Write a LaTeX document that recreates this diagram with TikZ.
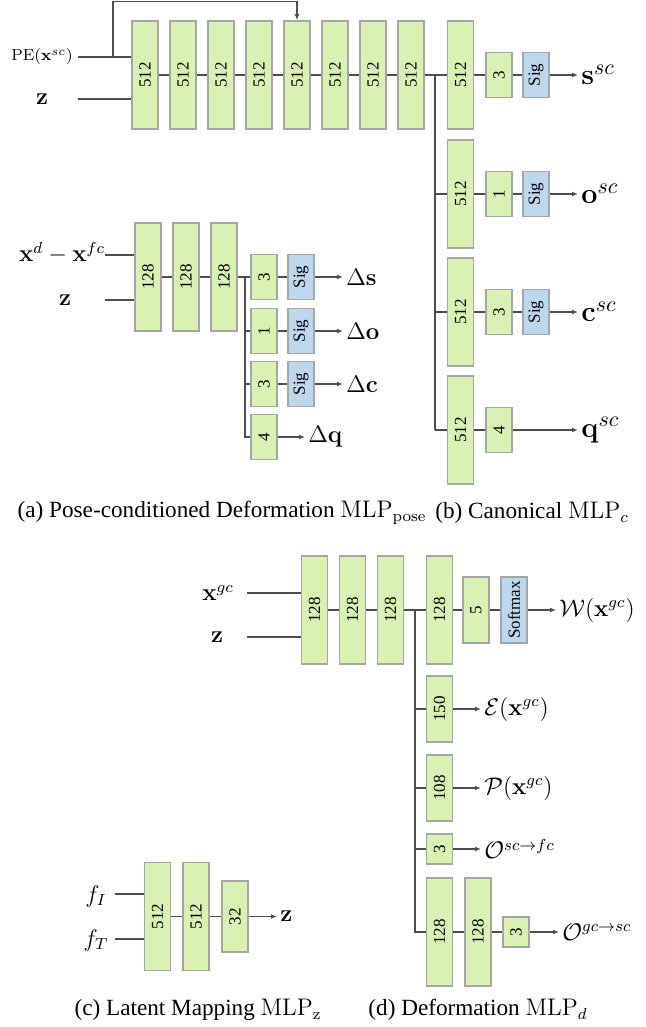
\documentclass[tikz,border=0pt]{standalone}
\usepackage[no-math]{fontspec}
\setmainfont{Liberation Serif}
\usepackage{graphicx}
\usetikzlibrary{arrows.meta}
\definecolor{LayerGreen}{HTML}{D9F2B4}
\definecolor{LayerEdge}{HTML}{A6A6A6}
\definecolor{ActBlue}{HTML}{BDD7EE}
\definecolor{WireGray}{HTML}{4D4D4D}
\newcommand{\vlab}[1]{\rotatebox{90}{#1}}
\tikzset{
  layer/.style={draw=LayerEdge,fill=LayerGreen,line width=0.75pt,minimum width=13pt,inner sep=0pt,font=\fontsize{8.5}{9}\selectfont},
  tall/.style={layer,minimum height=54pt},
  mid/.style={layer,minimum height=33pt},
  short/.style={layer,minimum height=22.5pt},
  tiny/.style={layer,minimum height=15pt},
  act/.style={fill=ActBlue},
  wire/.style={WireGray,line width=0.6pt},
  flow/.style={wire,-{Latex[length=3pt,width=2.4pt]}},
  lab/.style={inner sep=1.5pt,font=\fontsize{12}{14}\selectfont},
  big/.style={inner sep=1.5pt,font=\fontsize{15}{17}\selectfont},
  subcap/.style={inner sep=0pt,font=\fontsize{11.6}{14}\selectfont}
}
\begin{document}
\begin{tikzpicture}[x=0.5pt,y=-0.5pt]
  \useasboundingbox (0,0) rectangle (646,1027);
  % (b) canonical MLP
  \foreach \i in {1,...,8}{\node[tall] (c\i) at ({145+38*(\i-1)},75) {\vlab{512}};}
  \foreach \i [count=\j from 2] in {1,...,7}{\draw[wire] (c\i) -- (c\j);}
  \node[font=\fontsize{8.5}{10}\selectfont] (pe) at (42,57) {$\mathrm{PE}(\mathbf{x}^{sc})$};
  \node[lab] (zb) at (42,99) {$\mathbf{z}$};
  \coordinate (pein) at (78,57);\coordinate (zbin) at (78,99);
  \coordinate (skip) at (113,57);
  \draw[wire] (pein) -- (pein -| c1.west);
  \draw[wire] (zbin) -- (zbin -| c1.west);
  \draw[flow] (skip) -- ++(0,-55.5) -| (c5.north);
  \coordinate (cj) at (435,75);
  \foreach \n/\y in {s/75,o/194,c/312,q/430}{
    \node[tall] (h\n) at (460.5,\y) {\vlab{512}};
    \draw[wire] (cj |- h\n) -- (h\n);
  }
  \draw[wire] (c8) -- (cj) -- (cj |- hq);
  \foreach \n/\y/\w in {s/75/3,o/194/1,c/312/3}{
    \node[short] (k\n) at (499,\y) {\vlab{\w}};
    \node[short,act] (g\n) at (536,\y) {\vlab{Sig}};
    \node[big,anchor=west] (o\n) at (578,\y) {$\mathbf{\n}^{sc}$};
    \draw[wire] (h\n) -- (k\n);
    \draw[wire] (k\n) -- (g\n);
    \draw[flow] (g\n) -- (o\n);
  }
  \node[short] (kq) at (499,430) {\vlab{4}};
  \node[big,anchor=west] (oq) at (578,430) {$\mathbf{q}^{sc}$};
  \draw[wire] (hq) -- (kq);
  \draw[flow] (kq) -- (oq);

  % (a) pose-conditioned deformation MLP
  \node[lab] (xd) at (62,253) {$\mathbf{x}^{d}-\mathbf{x}^{fc}$};
  \node[lab] (za) at (65,300) {$\mathbf{z}$};
  \coordinate (xdin) at (105,255);\coordinate (zain) at (105,300);
  \foreach \i in {1,2,3}{\node[tall] (p\i) at ({148+38*(\i-1)},277) {\vlab{128}};}
  \draw[wire] (xdin) -- (xdin -| p1.west);
  \draw[wire] (zain) -- (zain -| p1.west);
  \draw[wire] (p1) -- (p2);\draw[wire] (p2) -- (p3);
  \coordinate (pj) at (245,277);
  \foreach \n/\y/\w in {s/277/3,o/331/1,c/384/3}{
    \node[short] (pk\n) at (264,\y) {\vlab{\w}};
    \node[short,act] (pg\n) at (301,\y) {\vlab{Sig}};
    \node[lab,anchor=west] (pd\n) at (343,\y) {$\Delta\mathbf{\n}$};
    \draw[wire] (pj |- pk\n) -- (pk\n);
    \draw[wire] (pk\n) -- (pg\n);
    \draw[flow] (pg\n) -- (pd\n);
  }
  \node[short] (pkq) at (264,437) {\vlab{4}};
  \node[lab,anchor=west] (pdq) at (305,437) {$\Delta\mathbf{q}$};
  \draw[wire] (p3) -- (pj) -- (pj |- pkq) -- (pkq);
  \draw[flow] (pkq) -- (pdq);

  \node[subcap] (capa) at (222,513) {(a) Pose-conditioned Deformation $\mathrm{MLP}_{\mathrm{pose}}$};
  \node[subcap] (capb) at (532,513) {(b) Canonical $\mathrm{MLP}_{c}$};

  % (d) deformation MLP
  \node[lab] (xg) at (218,593) {$\mathbf{x}^{gc}$};
  \node[lab] (zd) at (217,637) {$\mathbf{z}$};
  \coordinate (xgin) at (247,593);\coordinate (zdin) at (247,637);
  \foreach \i in {1,2,3}{\node[tall] (d\i) at ({314.5+38*(\i-1)},610) {\vlab{128}};}
  \draw[wire] (xgin) -- (xgin -| d1.west);
  \draw[wire] (zdin) -- (zdin -| d1.west);
  \draw[wire] (d1) -- (d2);\draw[wire] (d2) -- (d3);
  \coordinate (dj) at (415,610);
  \node[tall] (dw) at (439.5,610) {\vlab{128}};
  \node[mid] (dw5) at (476,610) {\vlab{5}};
  \node[mid,act] (dws) at (514,610) {\vlab{Softmax}};
  \node[lab,anchor=west] (ow) at (556,610) {$\mathcal{W}(\mathbf{x}^{gc})$};
  \node[mid] (de) at (439.5,709) {\vlab{150}};
  \node[lab,anchor=west] (oe) at (481,709) {$\mathcal{E}(\mathbf{x}^{gc})$};
  \node[mid] (dp) at (439.5,788) {\vlab{108}};
  \node[lab,anchor=west] (op) at (481,788) {$\mathcal{P}(\mathbf{x}^{gc})$};
  \node[tiny] (df) at (439.5,849) {\vlab{3}};
  \node[lab,anchor=west] (of) at (481,849) {$\mathcal{O}^{sc\rightarrow fc}$};
  \node[tall] (dg1) at (439.5,932) {\vlab{128}};
  \node[tall] (dg2) at (478,932) {\vlab{128}};
  \node[tiny] (dg3) at (516,932) {\vlab{3}};
  \node[lab,anchor=west] (og) at (559,932) {$\mathcal{O}^{gc\rightarrow sc}$};
  \draw[wire] (d3) -- (dw);
  \draw[wire] (dj) -- (dj |- dg1) -- (dg1);
  \foreach \b in {de,dp,df}{\draw[wire] (dj |- \b) -- (\b);}
  \draw[wire] (dw) -- (dw5);\draw[wire] (dw5) -- (dws);
  \draw[flow] (dws) -- (ow);
  \draw[flow] (de) -- (oe);\draw[flow] (dp) -- (op);\draw[flow] (df) -- (of);
  \draw[wire] (dg1) -- (dg2);\draw[wire] (dg2) -- (dg3);
  \draw[flow] (dg3) -- (og);

  % (c) latent mapping MLP
  \node[lab] (fi) at (96,896) {$f_I$};
  \node[lab] (ft) at (96,940) {$f_T$};
  \coordinate (fiin) at (115,894);\coordinate (ftin) at (115,939);
  \node[tall] (l1) at (157.5,916.5) {\vlab{512}};
  \node[tall] (l2) at (196,916.5) {\vlab{512}};
  \node[layer,minimum height=35.5pt] (l3) at (235,916.5) {\vlab{32}};
  \node[lab,anchor=west] (zl) at (277,916.5) {$\mathbf{z}$};
  \draw[wire] (fiin) -- (fiin -| l1.west);
  \draw[wire] (ftin) -- (ftin -| l1.west);
  \draw[wire] (l1) -- (l2);\draw[wire] (l2) -- (l3);
  \draw[flow] (l3) -- (zl);

  \node[subcap] (capc) at (198,1010) {(c) Latent Mapping $\mathrm{MLP}_{\mathrm{z}}$};
  \node[subcap] (capd) at (478,1010) {(d) Deformation $\mathrm{MLP}_{d}$};
\end{tikzpicture}
\end{document}
